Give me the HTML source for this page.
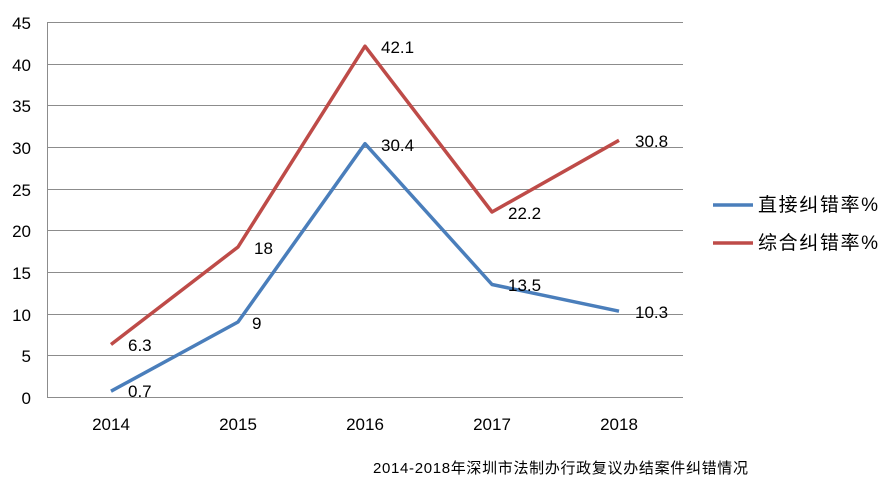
<!DOCTYPE html>
<html><head><meta charset="utf-8"><style>body{margin:0;background:#fff}</style></head>
<body>
<svg width="894" height="479" xmlns="http://www.w3.org/2000/svg" font-family="Liberation Sans, sans-serif">
<g stroke="#8c8c8c" stroke-width="1">
<line x1="47" y1="22.5" x2="683" y2="22.5"/>
<line x1="47" y1="64.5" x2="683" y2="64.5"/>
<line x1="47" y1="105.5" x2="683" y2="105.5"/>
<line x1="47" y1="147.5" x2="683" y2="147.5"/>
<line x1="47" y1="189.5" x2="683" y2="189.5"/>
<line x1="47" y1="230.5" x2="683" y2="230.5"/>
<line x1="47" y1="272.5" x2="683" y2="272.5"/>
<line x1="47" y1="314.5" x2="683" y2="314.5"/>
<line x1="47" y1="355.5" x2="683" y2="355.5"/>
<line x1="47" y1="397.5" x2="683" y2="397.5"/>
<line x1="47.5" y1="22" x2="47.5" y2="397"/>
</g>
<g font-size="17" fill="#000" text-anchor="end">
<text x="31" y="29">45</text><text x="31" y="71">40</text><text x="31" y="112">35</text>
<text x="31" y="154">30</text><text x="31" y="196">25</text><text x="31" y="237">20</text>
<text x="31" y="279">15</text><text x="31" y="321">10</text><text x="31" y="362">5</text>
<text x="31" y="404">0</text>
</g>
<g font-size="17" text-anchor="middle">
<text x="111" y="430">2014</text><text x="238" y="430">2015</text><text x="365" y="430">2016</text>
<text x="492" y="430">2017</text><text x="619" y="430">2018</text>
</g>
<polyline fill="none" stroke="#4a7ebb" stroke-width="3.5" stroke-linejoin="round" points="111,391.2 238,322 365,143.7 492,284.5 619,311.2"/>
<polyline fill="none" stroke="#be4b48" stroke-width="3.5" stroke-linejoin="round" points="111,344.5 238,247 365,46.2 492,212 619,140.3"/>
<g font-size="17">
<text x="128" y="397">0.7</text><text x="252" y="329">9</text><text x="381" y="151">30.4</text>
<text x="508" y="291">13.5</text><text x="635" y="318">10.3</text>
<text x="128" y="351">6.3</text><text x="254" y="254">18</text><text x="381" y="53">42.1</text>
<text x="508" y="219">22.2</text><text x="635" y="147">30.8</text>
</g>
<line x1="713" y1="205" x2="753" y2="205" stroke="#4a7ebb" stroke-width="3.5"/>
<line x1="713" y1="243" x2="753" y2="243" stroke="#be4b48" stroke-width="3.5"/>
<g font-size="19" font-family="Liberation Sans, Noto Sans CJK SC, sans-serif">
<text x="758" y="211" textLength="120">直接纠错率%</text>
<text x="758" y="249" textLength="120">综合纠错率%</text>
</g>
<text x="373" y="473" font-size="15" textLength="375" font-family="Liberation Sans, Noto Sans CJK SC, sans-serif">2014-2018年深圳市法制办行政复议办结案件纠错情况</text>
</svg>
</body></html>
